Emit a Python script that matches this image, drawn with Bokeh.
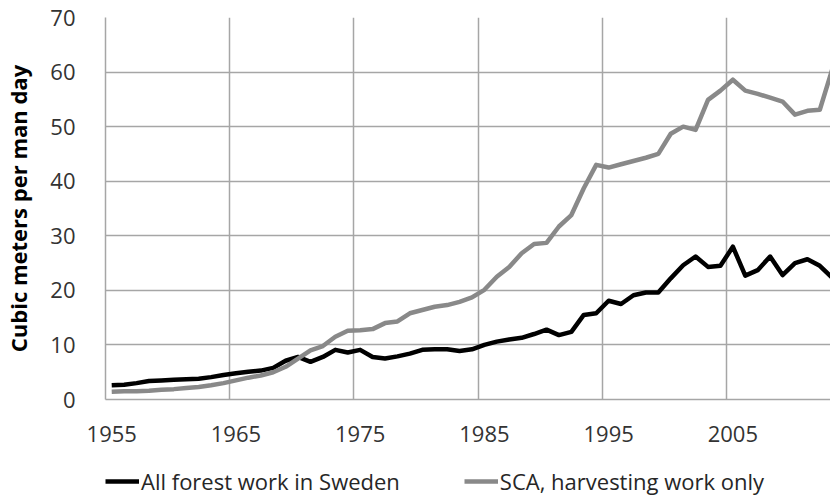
from bokeh.plotting import figure
from bokeh.layouts import column
from bokeh.models import FixedTicker, Legend, LegendItem
from bokeh.embed import file_html
from bokeh.resources import INLINE

years = list(range(1955, 2014))

all_forest_sweden = [
    2.6, 2.7, 3.0, 3.4, 3.5, 3.6, 3.7, 3.8, 4.1, 4.5,
    4.8, 5.1, 5.3, 5.8, 7.1, 7.8, 6.9, 7.8, 9.1, 8.6,
    9.1, 7.8, 7.5, 7.9, 8.4, 9.1, 9.2, 9.2, 8.9, 9.2,
    10.0, 10.6, 11.0, 11.3, 12.0, 12.8, 11.8, 12.4, 15.5, 15.8,
    18.1, 17.5, 19.1, 19.6, 19.6, 22.2, 24.6, 26.2, 24.3, 24.5,
    28.0, 22.7, 23.7, 26.2, 22.8, 25.0, 25.7, 24.5, 22.3,
]

sca_harvesting = [
    1.4, 1.5, 1.5, 1.6, 1.8, 1.9, 2.1, 2.3, 2.6, 3.0,
    3.5, 4.0, 4.4, 5.0, 6.0, 7.5, 9.0, 9.8, 11.5, 12.6,
    12.7, 12.9, 14.0, 14.3, 15.8, 16.4, 17.0, 17.3, 17.9, 18.7,
    20.1, 22.5, 24.3, 26.8, 28.5, 28.7, 31.7, 33.8, 38.7, 43.0,
    42.5, 43.1, 43.7, 44.3, 45.0, 48.7, 50.0, 49.4, 54.9, 56.6,
    58.6, 56.6, 56.0, 55.3, 54.6, 52.2, 52.9, 53.1, 60.5,
]

x_tick_labels = [1955, 1965, 1975, 1985, 1995, 2005]
y_ticks = [0, 10, 20, 30, 40, 50, 60, 70]
series_names = ["All forest work in Sweden", "SCA, harvesting work only"]

FONT = "Open Sans"
GRID = "#a6a6a6"
BLACK = "black"
GRAY = "#898989"
LW = 4.5

p = figure(
    width=830, height=452,
    x_range=(1954.5, 2012.86), y_range=(0, 70),
    output_backend="svg", toolbar_location=None,
    min_border_left=102, min_border_right=0, min_border_top=17, min_border_bottom=53,
)
p.outline_line_color = None

p.line(years, all_forest_sweden, line_color=BLACK, line_width=LW, line_join="round")
p.line(years, sca_harvesting, line_color=GRAY, line_width=LW, line_join="round")

# x axis
p.xaxis.ticker = FixedTicker(ticks=x_tick_labels)
p.xaxis.major_label_text_font = FONT
p.xaxis.major_label_text_font_size = "22px"
p.xaxis.major_label_text_color = "#333333"
p.xaxis.major_tick_line_color = None
p.xaxis.minor_tick_line_color = None
p.xaxis.major_label_standoff = 20
p.xaxis.axis_line_color = GRID
p.xaxis.axis_line_width = 1.5

# y axis
p.yaxis.ticker = FixedTicker(ticks=y_ticks)
p.yaxis.major_label_text_font = FONT
p.yaxis.major_label_text_font_size = "22px"
p.yaxis.major_label_text_color = "#333333"
p.yaxis.major_tick_line_color = None
p.yaxis.minor_tick_line_color = None
p.yaxis.major_label_standoff = 24
p.yaxis.axis_line_color = GRID
p.yaxis.axis_line_width = 1.5
p.yaxis.axis_label = "Cubic meters per man day"
p.yaxis.axis_label_text_font = FONT
p.yaxis.axis_label_text_font_size = "22px"
p.yaxis.axis_label_text_font_style = "bold"
p.yaxis.axis_label_text_color = "black"
p.yaxis.axis_label_standoff = 14

# grids
p.xgrid.ticker = FixedTicker(ticks=[y - 0.5 for y in x_tick_labels])
p.xgrid.grid_line_color = GRID
p.xgrid.grid_line_width = 1.5
p.ygrid.ticker = FixedTicker(ticks=y_ticks)
p.ygrid.grid_line_color = GRID
p.ygrid.grid_line_width = 1.5

# legend strip below the chart
lg = figure(
    width=830, height=44, x_range=(0, 1), y_range=(0, 1),
    x_axis_type=None, y_axis_type=None,
    output_backend="svg", toolbar_location=None, min_border=0,
)
lg.outline_line_color = None
lg.grid.visible = False
k1 = lg.line(years, all_forest_sweden, line_color=BLACK, line_width=LW)
k2 = lg.line(years, sca_harvesting, line_color=GRAY, line_width=LW)

legend = Legend(
    items=[LegendItem(label=series_names[0], renderers=[k1]),
           LegendItem(label=series_names[1], renderers=[k2])],
    location=(0, 0), orientation="horizontal",
    glyph_width=34, glyph_height=20, label_standoff=2, spacing=64,
    padding=0, margin=0, border_line_color=None, background_fill_alpha=0,
    label_text_font=FONT, label_text_font_size="22px", label_text_color="#262626",
)
lg.add_layout(legend, "center")

open("out.html", "w").write(file_html(column(p, lg), INLINE))
